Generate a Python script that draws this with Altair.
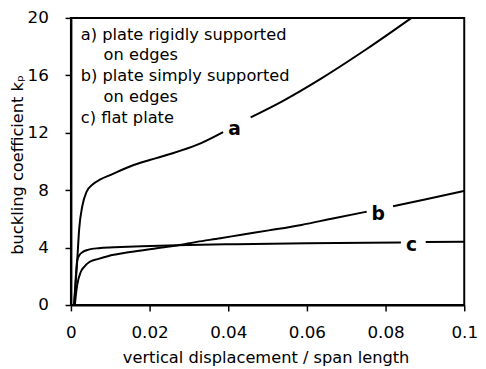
import altair as alt
import pandas as pd

# curve a (plate rigidly supported on edges), two segments around label
a1_x = [0.0008, 0.0012, 0.0016, 0.0021, 0.0029, 0.004, 0.0055, 0.0075, 0.0100, 0.015, 0.020, 0.025, 0.032, 0.0387]
a1_k = [0.0, 1.5, 3.1, 5.3, 6.9, 7.9, 8.4, 8.75, 9.05, 9.65, 10.1, 10.5, 11.15, 12.05]
a2_x = [0.0457, 0.0536, 0.0636, 0.0752, 0.0866]
a2_k = [13.07, 14.17, 15.77, 17.83, 20.0]

# curve b (plate simply supported on edges)
b1_x = [0.0010, 0.0013, 0.0016, 0.0025, 0.0035, 0.0046, 0.0068, 0.0096, 0.0135, 0.0178, 0.0237, 0.027, 0.032, 0.038, 0.043, 0.0503, 0.0586, 0.0669, 0.0752]
b1_k = [0.0, 0.8, 1.4, 2.3, 2.7, 2.98, 3.2, 3.42, 3.62, 3.8, 4.02, 4.15, 4.4, 4.65, 4.88, 5.2, 5.58, 6.05, 6.5]
b2_x = [0.0819, 0.090, 0.100]
b2_k = [6.88, 7.35, 7.95]

# curve c (flat plate)
c1_x = [0.0008, 0.0012, 0.0016, 0.0021, 0.0029, 0.0045, 0.007, 0.011, 0.018, 0.027, 0.042, 0.060, 0.0839]
c1_k = [0.0, 1.8, 3.1, 3.45, 3.68, 3.86, 3.96, 4.02, 4.1, 4.17, 4.24, 4.3, 4.35]
c2_x = [0.0902, 0.100]
c2_k = [4.39, 4.41]

curve_labels = ["a", "b", "c"]
curve_label_x = [0.0416, 0.0781, 0.0866]
curve_label_k = [11.85, 5.95, 3.77]

legend_lines = ["a) plate rigidly supported", "on edges", "b) plate simply supported", "on edges", "c) flat plate"]
legend_x = [0.0025, 0.0083, 0.0025, 0.0083, 0.0025]
legend_k = [18.49, 17.05, 15.61, 14.17, 12.70]

x_ticks = [0, 0.02, 0.04, 0.06, 0.08, 0.1]
y_ticks = [0, 4, 8, 12, 16, 20]

rows = []
for seg, xs, ks in [("a1", a1_x, a1_k), ("a2", a2_x, a2_k),
                    ("b1", b1_x, b1_k), ("b2", b2_x, b2_k),
                    ("c1", c1_x, c1_k), ("c2", c2_x, c2_k)]:
    for i, (x, k) in enumerate(zip(xs, ks)):
        rows.append({"seg": seg, "x": x, "k": k, "order": i})
df = pd.DataFrame(rows)

lab_df = pd.DataFrame({"t": curve_labels, "x": curve_label_x, "k": curve_label_k})
leg_df = pd.DataFrame({"t": legend_lines, "x": legend_x, "k": legend_k})

FONT = "DejaVu Sans"

xscale = alt.Scale(domain=[0, 0.1], nice=False, zero=False)
yscale = alt.Scale(domain=[0, 20], nice=False)

xaxis = alt.Axis(
    values=x_ticks, format="~g", title="vertical displacement / span length",
    grid=False, tickSize=6, labelPadding=14, labelFlush=False, labelOverlap=False,
    labelBound=False,
    titleX=198, titleY=58, titleBaseline="alphabetic", titleAlign="center",
)
yaxis = alt.Axis(
    values=y_ticks, title="buckling coefficient  kₚ",
    grid=False, tickSize=6, labelPadding=17, labelFlush=False, labelOverlap=False,
    titleX=-49, titleY=149, titleAngle=270, titleBaseline="alphabetic", titleAlign="center",
)

lines = alt.Chart(df).mark_line(color="black", strokeWidth=2, interpolate="monotone").encode(
    x=alt.X("x:Q", scale=xscale, axis=xaxis),
    y=alt.Y("k:Q", scale=yscale, axis=yaxis),
    detail="seg:N",
    order="order:Q",
)

labels = alt.Chart(lab_df).mark_text(
    font=FONT, fontSize=19, fontWeight="bold", color="black", align="center", baseline="alphabetic"
).encode(x=alt.X("x:Q", scale=xscale), y=alt.Y("k:Q", scale=yscale), text="t:N")

legend = alt.Chart(leg_df).mark_text(
    font=FONT, fontSize=16.5, color="black", align="left", baseline="alphabetic"
).encode(x=alt.X("x:Q", scale=xscale), y=alt.Y("k:Q", scale=yscale), text="t:N")

chart = alt.layer(lines, labels, legend).properties(
    width=400, height=292,
    autosize=alt.AutoSizeParams(type="none"),
    padding={"left": 64, "top": 7, "right": 14, "bottom": 62},
).configure_view(
    stroke="black", strokeWidth=2
).configure_axis(
    domainColor="black", domainWidth=2, tickColor="black", tickWidth=1.5,
    labelColor="black", titleColor="black",
    labelFont=FONT, titleFont=FONT, labelFontSize=17, titleFontSize=16.5,
    titleFontWeight="normal",
)

chart.save("out.html", embed_options={"renderer": "svg", "actions": False})
